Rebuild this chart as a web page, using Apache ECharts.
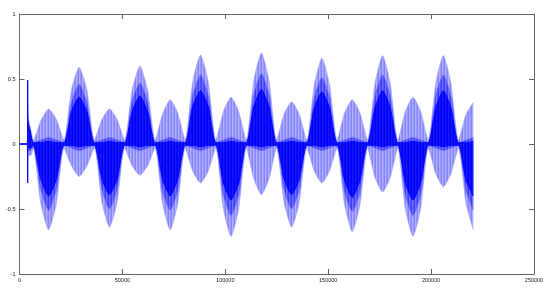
<!DOCTYPE html>
<html>
<head>
<meta charset="utf-8">
<script src="https://cdn.jsdelivr.net/npm/echarts@6/dist/echarts.min.js"></script>
<style>html,body{margin:0;padding:0;background:#fff}#c{width:550px;height:290px}</style>
</head>
<body>
<div id="c"></div>
<script>
// sample positions (waveform envelope nodes, quarter points, peaks)
var xs = [0,3800,3950,4100,5400,6700,
 10400,14150,17900,21600,
 25300,29000,32700,36400,
 40100,43750,47400,51100,
 54800,58500,62200,65900,
 69550,73200,76850,80500,
 84200,87950,91700,95400,
 99100,102800,106500,110200,
 113900,117550,121200,124900,
 128600,132250,135900,139600,
 143300,146950,150600,154300,
 158000,161700,165400,169100,
 172800,176450,180100,183800,
 187500,191200,194900,198600,
 202300,205950,209600,213300,
 217000,220500];

// outer (sparse, light) envelope
var outerTop = [0,0,0.49,0.22,0.12,0.03,
 0.18,0.27,0.19,0.03,
 0.42,0.59,0.42,0.03,
 0.19,0.27,0.19,0.03,
 0.42,0.60,0.42,0.03,
 0.23,0.34,0.24,0.03,
 0.48,0.685,0.48,0.03,
 0.25,0.36,0.25,0.03,
 0.49,0.70,0.49,0.03,
 0.23,0.325,0.23,0.03,
 0.46,0.66,0.46,0.03,
 0.24,0.34,0.24,0.03,
 0.47,0.68,0.47,0.03,
 0.25,0.36,0.25,0.03,
 0.47,0.68,0.47,0.03,
 0.23,0.32];
var outerBottom = [0,0,-0.30,-0.08,-0.09,-0.03,
 -0.46,-0.66,-0.46,-0.03,
 -0.17,-0.25,-0.17,-0.03,
 -0.45,-0.64,-0.45,-0.03,
 -0.17,-0.24,-0.17,-0.03,
 -0.46,-0.66,-0.46,-0.03,
 -0.21,-0.30,-0.21,-0.03,
 -0.50,-0.71,-0.50,-0.03,
 -0.27,-0.39,-0.27,-0.03,
 -0.45,-0.64,-0.45,-0.03,
 -0.21,-0.30,-0.21,-0.03,
 -0.47,-0.675,-0.47,-0.03,
 -0.26,-0.37,-0.26,-0.03,
 -0.50,-0.71,-0.50,-0.03,
 -0.23,-0.33,-0.23,-0.03,
 -0.46,-0.66];

// middle-density envelope
var midTop = [0,0,0.49,0.20,0.10,0.01,
 0.03,0.05,0.03,0.01,
 0.32,0.46,0.32,0.01,
 0.03,0.05,0.03,0.01,
 0.33,0.47,0.33,0.01,
 0.03,0.05,0.03,0.01,
 0.37,0.53,0.37,0.01,
 0.03,0.05,0.03,0.01,
 0.38,0.54,0.38,0.01,
 0.03,0.05,0.03,0.01,
 0.36,0.51,0.36,0.01,
 0.03,0.05,0.03,0.01,
 0.37,0.53,0.37,0.01,
 0.03,0.05,0.03,0.01,
 0.37,0.53,0.37,0.01,
 0.03,0.05];
var midBottom = [0,0,-0.30,-0.05,-0.05,-0.01,
 -0.35,-0.51,-0.35,-0.01,
 -0.03,-0.05,-0.03,-0.01,
 -0.35,-0.50,-0.35,-0.01,
 -0.03,-0.05,-0.03,-0.01,
 -0.36,-0.51,-0.36,-0.01,
 -0.03,-0.05,-0.03,-0.01,
 -0.39,-0.55,-0.39,-0.01,
 -0.03,-0.05,-0.03,-0.01,
 -0.35,-0.50,-0.35,-0.01,
 -0.03,-0.05,-0.03,-0.01,
 -0.37,-0.52,-0.37,-0.01,
 -0.03,-0.05,-0.03,-0.01,
 -0.39,-0.55,-0.39,-0.01,
 -0.03,-0.05,-0.03,-0.01,
 -0.36,-0.51];

// dense (dark) core envelope
var coreTop = [0,0,0.49,0.18,0.08,0.01,
 0.01,0.02,0.01,0.01,
 0.25,0.36,0.25,0.01,
 0.01,0.02,0.01,0.01,
 0.25,0.37,0.25,0.01,
 0.01,0.02,0.01,0.01,
 0.29,0.41,0.29,0.01,
 0.01,0.02,0.01,0.01,
 0.29,0.42,0.29,0.01,
 0.01,0.02,0.01,0.01,
 0.28,0.40,0.28,0.01,
 0.01,0.02,0.01,0.01,
 0.28,0.41,0.28,0.01,
 0.01,0.02,0.01,0.01,
 0.28,0.41,0.28,0.01,
 0.01,0.02];
var coreBottom = [0,0,-0.30,-0.03,-0.03,-0.01,
 -0.27,-0.40,-0.27,-0.01,
 -0.01,-0.02,-0.01,-0.01,
 -0.27,-0.39,-0.27,-0.01,
 -0.01,-0.02,-0.01,-0.01,
 -0.27,-0.40,-0.27,-0.01,
 -0.01,-0.02,-0.01,-0.01,
 -0.30,-0.43,-0.30,-0.01,
 -0.01,-0.02,-0.01,-0.01,
 -0.27,-0.39,-0.27,-0.01,
 -0.01,-0.02,-0.01,-0.01,
 -0.28,-0.41,-0.28,-0.01,
 -0.01,-0.02,-0.01,-0.01,
 -0.30,-0.43,-0.30,-0.01,
 -0.01,-0.02,-0.01,-0.01,
 -0.28,-0.40];

var xTicks = [0, 50000, 100000, 150000, 200000, 250000];
var yTicks = [-1, -0.5, 0, 0.5, 1];

function pairs(arr) { return xs.map(function (x, i) { return [x, arr[i]]; }); }

// vertical-stripe fill patterns that imitate the dense sample lines
function stripes(cols) {
  var c = document.createElement('canvas');
  c.width = cols.length; c.height = 4;
  var g = c.getContext('2d');
  cols.forEach(function (col, i) { g.fillStyle = col; g.fillRect(i, 0, 1, 4); });
  return { image: c, repeat: 'repeat' };
}
var LIGHT = stripes(['#8484ff', '#b0b0ff', '#9898ff']);
var MID = stripes(['#3c3cff', '#7070ff', '#5454ff']);
var DARK = stripes(['#0000ff', '#1818f8', '#0a0aff']);

function band(arr, fill, lineCol, lw) {
  return {
    type: 'line', data: pairs(arr), symbol: 'none', silent: true, smooth: 0.2,
    xAxisIndex: 0, yAxisIndex: 0,
    lineStyle: { color: lineCol, width: lw },
    areaStyle: { color: fill, opacity: 1 }
  };
}

var axisCol = '#666';
var font = { fontFamily: 'Liberation Sans', fontSize: 5.5, color: '#222' };

var chart = echarts.init(document.getElementById('c'), null, { renderer: 'canvas' });
chart.setOption({
  animation: false,
  backgroundColor: '#fff',
  grid: { left: 19.5, right: 16, top: 14, bottom: 16, containLabel: false },
  xAxis: [
    { type: 'value', position: 'bottom', min: xTicks[0], max: xTicks[xTicks.length - 1], interval: 50000,
      axisLine: { show: true, onZero: false, lineStyle: { color: axisCol, width: 1 } },
      axisTick: { show: true, inside: true, length: 5, lineStyle: { color: axisCol } },
      axisLabel: Object.assign({ margin: 3, formatter: function (v) { return String(v); } }, font),
      splitLine: { show: false } },
    { type: 'value', position: 'top', min: xTicks[0], max: xTicks[xTicks.length - 1], interval: 50000,
      axisLine: { show: true, onZero: false, lineStyle: { color: axisCol, width: 1 } },
      axisTick: { show: true, inside: true, length: 5, lineStyle: { color: axisCol } },
      axisLabel: { show: false }, splitLine: { show: false } }
  ],
  yAxis: [
    { type: 'value', position: 'left', min: yTicks[0], max: yTicks[yTicks.length - 1], interval: 0.5,
      axisLine: { show: true, onZero: false, lineStyle: { color: axisCol, width: 1 } },
      axisTick: { show: true, inside: true, length: 5, lineStyle: { color: axisCol } },
      axisLabel: Object.assign({ margin: 4, formatter: function (v) { return String(v); } }, font),
      splitLine: { show: false } },
    { type: 'value', position: 'right', min: yTicks[0], max: yTicks[yTicks.length - 1], interval: 0.5,
      axisLine: { show: true, onZero: false, lineStyle: { color: axisCol, width: 1 } },
      axisTick: { show: true, inside: true, length: 5, lineStyle: { color: axisCol } },
      axisLabel: { show: false }, splitLine: { show: false } }
  ],
  series: [
    band(outerTop, LIGHT, '#a0a0ff', 0.6), band(outerBottom, LIGHT, '#a0a0ff', 0.6),
    band(midTop, MID, '#5c5cff', 0.6), band(midBottom, MID, '#5c5cff', 0.6),
    band(coreTop, DARK, '#0000ff', 1), band(coreBottom, DARK, '#0000ff', 1)
  ]
});
</script>
</body>
</html>
